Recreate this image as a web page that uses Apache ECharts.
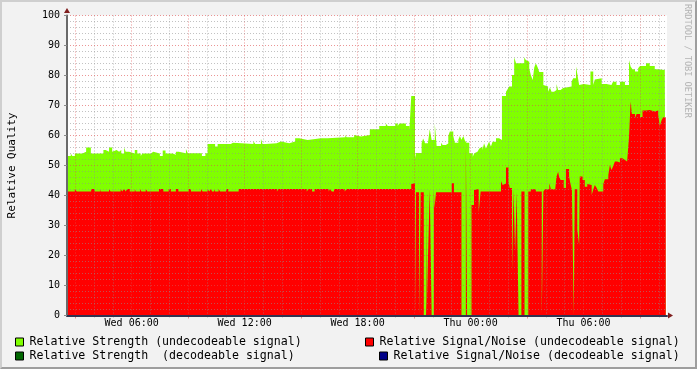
<!DOCTYPE html>
<html><head><meta charset="utf-8">
<script src="https://cdn.jsdelivr.net/npm/echarts@6/dist/echarts.min.js"></script>
<style>
html,body{margin:0;padding:0;background:#f2f2f2;}
#frame{position:absolute;left:0;top:0;width:697px;height:369px;box-sizing:border-box;border-top:2px solid #cfcfcf;border-left:2px solid #cfcfcf;border-right:2px solid #9e9e9e;border-bottom:2px solid #9e9e9e;background:#f2f2f2;}
#chart{width:693px;height:365px;}
</style></head><body><div id="frame"><div id="chart"></div></div>
<script>
// x values: minutes since Wed 00:00
const xMin = 154, xMax = 2066;
const labelValues = [360, 720, 1080, 1440, 1800];
const labelTexts = ['Wed 06:00', 'Wed 12:00', 'Wed 18:00', 'Thu 00:00', 'Thu 06:00'];
const majorGridValues = [180, 360, 540, 720, 900, 1080, 1260, 1440, 1620, 1800, 1980];
const minorGridValues = [240, 300, 420, 480, 600, 660, 780, 840, 960, 1020, 1140, 1200, 1320, 1380, 1500, 1560, 1680, 1740, 1860, 1920, 2040];
const seriesNames = [
  'Relative Strength (undecodeable signal)',
  'Relative Signal/Noise (undecodeable signal)',
  'Relative Strength  (decodeable signal)',
  'Relative Signal/Noise (decodeable signal)'
];
const seriesColors = ['#80ff00', '#ff0000', '#006600', '#000088'];

// [minute, value] change points
const strength = [
[154,53.2],[166,54],[171,53.2],[179,54],[203,54.6],[215,56],[230,54],[245,53.5],[251,54],[270,55.2],[277,54.6],[288,56],[298,54.6],[304,55.2],[312,54.6],[320,55.2],[327,54],[336,56],[341,54.6],[352,55.2],[357,54],[370,55.2],[378,54],[389,53.2],[394,54],[421,54.6],[429,54],[450,53.2],[459,55],[468,54],[491,53.6],[501,54.6],[510,54.1],[533,55.5],[539,54.1],[584,53.2],[595,54.1],[602,57.2],[626,56.3],[634,57.2],[676,57.6],[683,57.2],[748,58.1],[754,57.2],[772,58.9],[777,57.2],[788,57.4],[822,58],[836,57.4],[862,58],[881,59.1],[894,58.5],[921,59.1],[963,58.7],[969,59.1],[985,58.5],[990,59.4],[1041,60.2],[1045,59.4],[1069,60.2],[1075,59.7],[1091,60.2],[1119,62.1],[1149,63.2],[1170,64],[1176,63.2],[1200,64],[1208,63.2],[1213,64],[1234,63.2],[1245,61.7],[1251,73.2],[1263,52.4],[1266,54.2],[1284,57.4],[1289,59],[1295,57.4],[1304,58],[1310,62.1],[1316,58.5],[1326,64],[1332,56.5],[1346,57.6],[1351,56.8],[1361,57.3],[1369,59.8],[1374,61.3],[1385,59.8],[1390,57.6],[1401,58.6],[1406,59.8],[1411,58.6],[1417,59.8],[1422,58.3],[1427,57.6],[1436,54.1],[1447,52.9],[1452,54.1],[1457,54.6],[1462,55.2],[1468,55.7],[1473,56.3],[1478,55.2],[1483,57.4],[1489,55.7],[1494,56.8],[1499,57.9],[1505,56.3],[1510,57.9],[1521,59.1],[1531,58.5],[1540,73.2],[1553,74.6],[1558,75.4],[1563,76.3],[1572,80.2],[1579,86.1],[1585,84.1],[1611,86.1],[1616,85.2],[1622,84.6],[1627,82.4],[1632,80.2],[1638,78.5],[1643,82.7],[1648,84.1],[1654,82.7],[1659,81.2],[1672,76.8],[1677,76.3],[1687,74.6],[1693,76],[1698,74.6],[1706,75.2],[1714,77.2],[1719,75.2],[1727,75.8],[1735,75.2],[1741,76.3],[1762,77.9],[1767,79.1],[1776,83],[1780,80.7],[1786,76.8],[1791,77.2],[1801,76.8],[1822,81.3],[1831,76.8],[1836,78.7],[1839,79.1],[1858,77.2],[1873,76.8],[1889,77.2],[1894,77.9],[1905,76.8],[1916,77.9],[1932,76.8],[1945,85.2],[1950,83],[1956,82.1],[1964,81.3],[1974,82.4],[1980,83.2],[1999,84.1],[2011,83.2],[2027,82.1],[2038,81.8],[2059,80.7],[2062,80.7]
];
const signalNoise = [
[154,41.3],[179,42.2],[185,41.3],[231,42.2],[242,41.3],[259,42.2],[261,41.3],[288,42.2],[293,41.3],[325,42.2],[330,41.3],[336,42.2],[341,41.3],[346,42.2],[354,41.3],[370,42.2],[373,41.3],[387,42.2],[391,41.3],[405,42.2],[410,41.3],[447,42.2],[461,41.3],[478,42.2],[485,41.3],[501,42.2],[509,41.3],[542,42.2],[549,41.3],[581,42.2],[586,41.3],[602,42.2],[607,41.3],[613,42.2],[616,41.3],[623,42.2],[626,41.3],[637,42.2],[642,41.3],[661,42.2],[668,41.3],[701,42.2],[823,41.3],[828,42.2],[918,41.3],[924,42.2],[935,41.3],[943,42.2],[988,41.3],[992,42.2],[998,41.3],[1005,42.2],[1039,41.3],[1045,42.2],[1251,43.8],[1256,44.1],[1263,0],[1266,41.1],[1276,0],[1281,41.1],[1291,0],[1298,41.1],[1300,0],[1304,18.2],[1310,42.2],[1316,0],[1323,42.2],[1325,35.7],[1330,41.1],[1380,44.1],[1387,41.1],[1411,0],[1425,57.2],[1429,0],[1443,36.8],[1451,41.8],[1457,42.2],[1466,34.3],[1472,41.3],[1537,44.8],[1542,43.5],[1547,44],[1553,49.3],[1561,44.5],[1565,42.5],[1572,14],[1577,42.1],[1582,21.3],[1587,41.3],[1593,0],[1602,41.3],[1612,0],[1624,41.3],[1632,42.1],[1648,41.3],[1667,0],[1672,41.3],[1677,42.1],[1691,44.1],[1696,42.1],[1709,41.3],[1714,46.3],[1719,47.9],[1722,46.3],[1727,45.2],[1737,42.5],[1744,48.8],[1754,46.3],[1758,44.1],[1763,41.8],[1769,0],[1772,42.1],[1780,28.7],[1786,23.5],[1788,46.3],[1797,45.2],[1804,42.9],[1812,43.8],[1818,43.5],[1826,40.2],[1831,42],[1836,43.5],[1842,42.5],[1847,41.3],[1863,43.8],[1868,45.4],[1879,46.8],[1884,50.2],[1889,48.5],[1894,49.7],[1900,51.3],[1907,51],[1916,52.4],[1924,51.8],[1932,51.3],[1939,51.5],[1945,59.6],[1950,71.3],[1954,67.2],[1964,65.8],[1969,67.2],[1980,66.2],[1988,68.3],[1999,68.5],[2011,69.1],[2017,68],[2027,68.3],[2038,66.9],[2043,63.2],[2049,65.2],[2054,66.1],[2062,66.1]
];
const strengthDecodeable = [];
const signalNoiseDecodeable = [];

const FONT = 'DejaVu Sans Mono';
const minorColor = 'rgba(143,143,143,0.55)';
const majorColor = 'rgba(222,79,79,0.6)';

function areaSeries(i, data) {
  return {
    name: seriesNames[i], type: 'line', step: 'end', data: data,
    symbol: 'none', showSymbol: false, silent: true, z: 2,
    color: seriesColors[i],
    itemStyle: {color: seriesColors[i]},
    lineStyle: {width: 0, color: seriesColors[i]},
    areaStyle: {color: seriesColors[i], opacity: 1},
    xAxisIndex: 0, yAxisIndex: 0
  };
}

const legendCommon = {
  orient: 'horizontal', icon: 'rect', itemWidth: 8, itemHeight: 8, padding: 0,
  selectedMode: false,
  itemStyle: {borderColor: '#000', borderWidth: 1},
  textStyle: {color: '#000', fontFamily: FONT, fontSize: 11.6, lineHeight: 14, padding: [0, 0, 0, 1]}
};

const chart = echarts.init(document.getElementById('chart'), null, {renderer: 'canvas'});
chart.setOption({
  animation: false,
  backgroundColor: '#f2f2f2',
  textStyle: {fontFamily: FONT},
  grid: {left: 65, top: 13.5, width: 600, height: 300, show: true, backgroundColor: '#ffffff', borderWidth: 0, containLabel: false, outerBoundsMode: 'none'},
  legend: [
    Object.assign({}, legendCommon, {data: [seriesNames[0]], left: 13, top: 333}),
    Object.assign({}, legendCommon, {data: [seriesNames[2]], left: 13, top: 347}),
    Object.assign({}, legendCommon, {data: [seriesNames[1]], left: 363, top: 333}),
    Object.assign({}, legendCommon, {data: [seriesNames[3]], left: 377, top: 347})
  ],
  xAxis: [
    {
      type: 'value', position: 'bottom', min: xMin, max: xMax, z: 6,
      axisLine: {show: true, onZero: false, lineStyle: {color: '#333350', width: 2}},
      axisTick: {show: false},
      axisLabel: {
        show: true, customValues: labelValues, margin: 3,
        formatter: function (v) { return labelTexts[labelValues.indexOf(v)]; },
        color: '#000', fontFamily: FONT, fontSize: 10
      },
      splitLine: {show: false}
    },
    {
      type: 'value', position: 'bottom', min: xMin, max: xMax, z: 5,
      axisLine: {show: false}, axisLabel: {show: false},
      axisTick: {show: true, customValues: minorGridValues, length: 2, lineStyle: {color: minorColor}},
      splitLine: {show: true, lineStyle: {color: minorColor, width: 1, type: [1, 2]}}
    },
    {
      type: 'value', position: 'bottom', min: xMin, max: xMax, z: 5,
      axisLine: {show: true, onZero: false, lineStyle: {color: '#801f1f', width: 0}, symbol: ['none', 'triangle'], symbolSize: [6, 5], symbolOffset: [0, 3.5]},
      axisLabel: {show: false},
      axisTick: {show: true, customValues: majorGridValues, length: 3, lineStyle: {color: majorColor}},
      splitLine: {show: true, lineStyle: {color: majorColor, width: 1, type: [1, 2]}}
    }
  ],
  yAxis: [
    {
      type: 'value', position: 'left', min: 0, max: 100, interval: 10, z: 6,
      name: 'Relative Quality', nameLocation: 'middle', nameGap: 49,
      nameTextStyle: {color: '#000', fontFamily: FONT, fontSize: 11},
      axisLine: {show: true, onZero: false, lineStyle: {color: '#6a6a6a', width: 2}},
      axisTick: {show: true, length: 3, lineStyle: {color: '#8a8a8a'}},
      axisLabel: {color: '#000', fontFamily: FONT, fontSize: 10, margin: 7},
      splitLine: {show: true, lineStyle: {color: majorColor, width: 1, type: [1, 2]}},
      minorTick: {show: false, splitNumber: 5},
      minorSplitLine: {show: true, lineStyle: {color: minorColor, width: 1, type: [1, 2]}}
    },
    {
      type: 'value', position: 'left', min: 0, max: 100, z: 6,
      axisLine: {show: true, onZero: false, lineStyle: {color: '#801f1f', width: 0}, symbol: ['none', 'triangle'], symbolSize: [6, 5], symbolOffset: [0, 5]},
      axisLabel: {show: false}, axisTick: {show: false}, splitLine: {show: false}
    }
  ],
  graphic: [{
    type: 'text', x: 685.5, y: 2, rotation: -Math.PI / 2, silent: true,
    style: {text: 'RRDTOOL / TOBI OETIKER', fill: '#b4b4b4', font: '8.6px "DejaVu Sans Mono"', align: 'left', verticalAlign: 'middle'}
  }],
  series: [
    areaSeries(0, strength),
    areaSeries(1, signalNoise),
    areaSeries(2, strengthDecodeable),
    areaSeries(3, signalNoiseDecodeable)
  ]
});
</script></body></html>
